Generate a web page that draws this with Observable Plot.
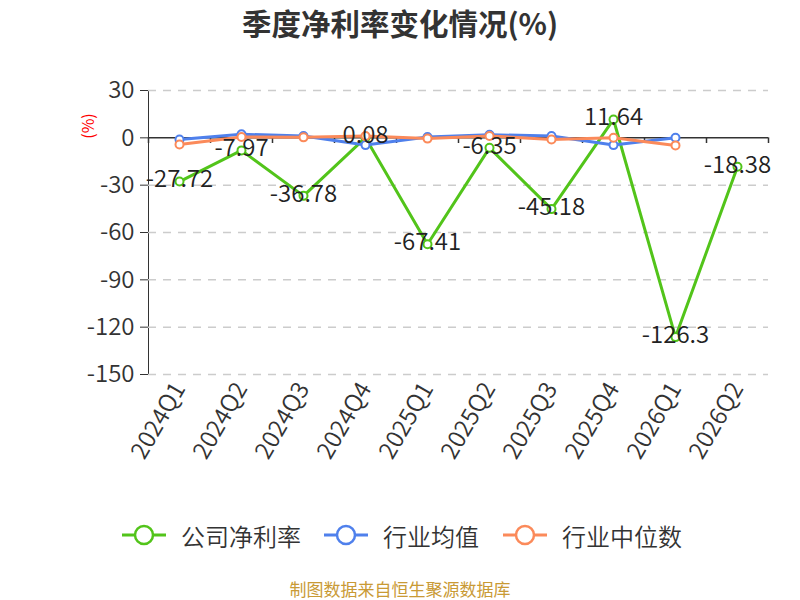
<!DOCTYPE html>
<html>
<head>
<meta charset="utf-8">
<script src="https://cdn.jsdelivr.net/npm/d3@7"></script>
<script src="https://cdn.jsdelivr.net/npm/@observablehq/plot@0.6"></script>
<style>
  body { margin: 0; background: #fff; }
  #wrap { position: relative; width: 800px; height: 600px; overflow: hidden;
          font-family: "Noto Sans CJK SC", "Noto Sans", sans-serif; }
  #title { position: absolute; top: 2px; left: 0; width: 800px; text-align: center;
           font-size: 29.5px; font-weight: bold; color: #333; line-height: 40px; }
  #unit { position: absolute; left: 72px; top: 118px; width: 30px; height: 16px;
          font-size: 16px; color: #f00; line-height: 16px; text-align: center;
          transform: rotate(-90deg); white-space: nowrap; }
  #chart { position: absolute; left: 0; top: 0; }
  #chart svg text { font-weight: 350; }
  .item { position: absolute; top: 520px; height: 30px; display: flex; align-items: center;
          font-size: 24px; font-weight: 350; color: #333; white-space: nowrap; }
  .item svg { margin-right: 14px; }
  #footer { position: absolute; top: 577px; left: 0; width: 800px; text-align: center;
            font-size: 17px; color: #c99a35; line-height: 24px; }
</style>
</head>
<body>
<div id="wrap">
  <div id="chart"></div>
  <div id="title">季度净利率变化情况(%)</div>
  <div id="unit">(%)</div>
  <div id="legend"></div>
  <div id="footer">制图数据来自恒生聚源数据库</div>
</div>
<script>
const quarters = ["2024Q1","2024Q2","2024Q3","2024Q4","2025Q1","2025Q2","2025Q3","2025Q4","2026Q1","2026Q2"];
const companyRate = [-27.72, -7.97, -36.78, 0.08, -67.41, -6.35, -45.18, 11.64, -126.3, -18.38];
const industryAvg = [-1.0, 2.3, 1.1, -4.6, 0.5, 2.0, 1.1, -4.6, 0.0];
const industryMedian = [-4.2, 0.5, 0.3, 1.1, -0.5, 1.2, -1.0, 0.0, -4.8];
const yTicks = [30, 0, -30, -60, -90, -120, -150];
const seriesNames = ["公司净利率", "行业均值", "行业中位数"];
const seriesColors = ["#52c41a", "#4f80ec", "#fb8a5a"];

const rows = (vals) => vals.map((v, i) => ({q: quarters[i], v}));
const company = rows(companyRate);
const avg = rows(industryAvg);
const med = rows(industryMedian);

const lineStyle = (c) => ({x: "q", y: "v", stroke: c, strokeWidth: 3});
const dotStyle = (c) => ({x: "q", y: "v", r: 4, fill: "#fff", stroke: c, strokeWidth: 2});
const tickStyle = {y1: 0, y2: -3.6, stroke: "#333", strokeWidth: 1.5};

const chart = Plot.plot({
  width: 800,
  height: 500,
  marginTop: 90,
  marginBottom: 126,
  marginLeft: 148,
  marginRight: 32,
  style: {fontSize: "24px", fontFamily: "'Noto Sans CJK SC', 'Noto Sans', sans-serif", color: "#333", background: "transparent", overflow: "visible"},
  x: {type: "point", domain: quarters, padding: 0.5, label: null, tickSize: 0, tickRotate: -60, tickPadding: 10},
  y: {domain: [-150, 30], ticks: yTicks, tickFormat: d => String(d), label: null, tickSize: 8, tickPadding: 6, line: true},
  marks: [
    Plot.ruleY(yTicks.filter(v => v !== 0), {stroke: "#cccccc", strokeWidth: 1.5, strokeDasharray: "8,7"}),
    Plot.ruleY([0], {stroke: "#333", strokeWidth: 1.5}),
    Plot.ruleX(quarters, {x: d => d, dx: -31, ...tickStyle}),
    Plot.ruleX([quarters[quarters.length - 1]], {x: d => d, dx: 31, ...tickStyle}),
    Plot.line(company, lineStyle(seriesColors[0])),
    Plot.dot(company, dotStyle(seriesColors[0])),
    Plot.line(avg, lineStyle(seriesColors[1])),
    Plot.dot(avg, dotStyle(seriesColors[1])),
    Plot.line(med, lineStyle(seriesColors[2])),
    Plot.dot(med, dotStyle(seriesColors[2])),
    Plot.text(company, {x: "q", y: "v", text: d => String(d.v), dy: -2, fill: "#222", fontSize: 24})
  ]
});
document.getElementById("chart").appendChild(chart);

const legendLefts = [121, 323, 502];
const legend = document.getElementById("legend");
seriesNames.forEach((name, i) => {
  const item = document.createElement("div");
  item.className = "item";
  item.style.left = legendLefts[i] + "px";
  const c = seriesColors[i];
  item.innerHTML = `<svg width="46" height="30"><line x1="1" y1="15" x2="45" y2="15" stroke="${c}" stroke-width="3"/><circle cx="23" cy="15" r="9" fill="#fff" stroke="${c}" stroke-width="2.5"/></svg><span>${name}</span>`;
  legend.appendChild(item);
});
</script>
</body>
</html>
